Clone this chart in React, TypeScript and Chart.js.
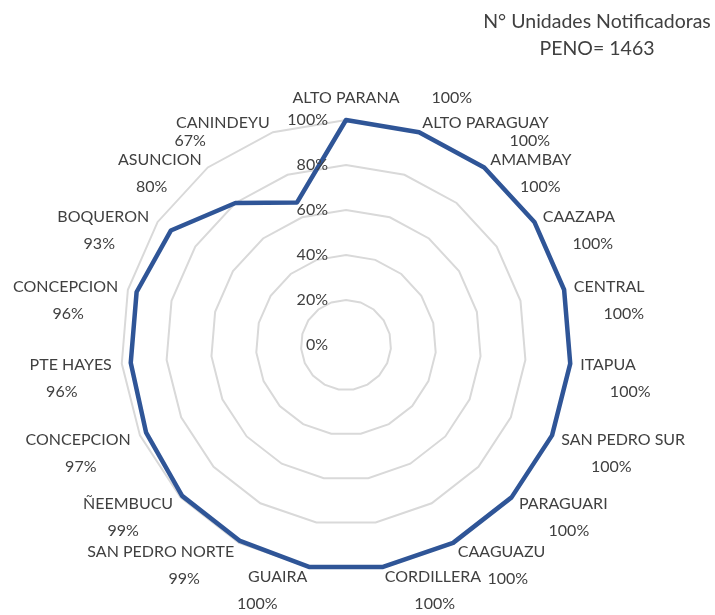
import React, { useEffect, useRef } from "react";
import { Chart, registerables } from "chart.js";

Chart.register(...registerables);

const CATEGORIES: string[] = [
  "ALTO PARANA",
  "ALTO PARAGUAY",
  "AMAMBAY",
  "CAAZAPA",
  "CENTRAL",
  "ITAPUA",
  "SAN PEDRO SUR",
  "PARAGUARI",
  "CAAGUAZU",
  "CORDILLERA",
  "GUAIRA",
  "SAN PEDRO NORTE",
  "ÑEEMBUCU",
  "CONCEPCION",
  "PTE HAYES",
  "CONCEPCION",
  "BOQUERON",
  "ASUNCION",
  "CANINDEYU",
];

const VALUES: number[] = [
  100, 100, 100, 100, 100, 100, 100, 100, 100, 100, 100, 99, 99, 97, 96, 96, 93, 80, 67,
];

const TICK_VALUES: number[] = [0, 20, 40, 60, 80, 100];
const TICK_LABELS: string[] = ["0%", "20%", "40%", "60%", "80%", "100%"];

const TITLE_LINES: string[] = ["N° Unidades Notificadoras", "PENO= 1463"];

const FONT_FAMILY = "Lato, 'Open Sans', sans-serif";
const TEXT_COLOR = "#404040";
const LINE_COLOR = "#2F5597";
const GRID_COLOR = "#D9D9D9";

const labelPlugin = {
  id: "radarLabels",
  afterDraw(chart: any) {
    const scale = chart.scales.r;
    const ctx: CanvasRenderingContext2D = chart.ctx;
    ctx.save();
    ctx.fillStyle = TEXT_COLOR;
    ctx.font = `16px ${FONT_FAMILY}`;

    // tick labels along the vertical axis
    ctx.textAlign = "right";
    ctx.textBaseline = "middle";
    TICK_VALUES.forEach((v, i) => {
      const d = scale.getDistanceFromCenterForValue(v);
      ctx.fillText(TICK_LABELS[i], scale.xCenter - 18, scale.yCenter - d);
    });

    // category + value labels
    const R = scale.drawingArea;
    CATEGORIES.forEach((cat, i) => {
      const angle = scale.getIndexAngle(i);
      let deg = (angle * 180) / Math.PI;
      deg = ((deg % 360) + 360) % 360;
      const valText = `${VALUES[i]}%`;
      const w = ctx.measureText(cat).width;
      if (deg < 5 || deg > 355) {
        const p = scale.getPointPosition(i, R + 22);
        ctx.textAlign = "center";
        ctx.textBaseline = "middle";
        ctx.fillText(cat, p.x, p.y);
        ctx.textAlign = "left";
        ctx.fillText(valText, p.x + w / 2 + 32, p.y);
        return;
      }
      const p = scale.getPointPosition(i, R + 10);
      const right = deg < 180;
      const sign = right ? 1 : -1;
      ctx.textBaseline = "middle";
      ctx.textAlign = right ? "left" : "right";
      ctx.fillText(cat, p.x, p.y);
      ctx.textAlign = "center";
      const nearTop = deg < 30 || deg > 330;
      if (nearTop) {
        ctx.fillText(valText, p.x + sign * w * 0.85, p.y + 18);
      } else {
        ctx.fillText(valText, p.x + sign * 50, p.y + 27);
      }
    });

    // title
    ctx.font = `19.5px ${FONT_FAMILY}`;
    ctx.textAlign = "center";
    ctx.textBaseline = "middle";
    const tx = chart.width - 118;
    TITLE_LINES.forEach((line, i) => {
      ctx.fillText(line, tx, 22 + i * 27);
    });
    ctx.restore();
  },
};

export default function App() {
  const canvasRef = useRef<HTMLCanvasElement | null>(null);

  useEffect(() => {
    if (!canvasRef.current) return;
    const chart = new Chart(canvasRef.current, {
      type: "radar",
      data: {
        labels: CATEGORIES,
        datasets: [
          {
            label: "N° Unidades Notificadoras",
            data: VALUES,
            borderColor: LINE_COLOR,
            borderWidth: 4.5,
            backgroundColor: "rgba(0,0,0,0)",
            fill: false,
            pointRadius: 0,
            pointHoverRadius: 0,
            borderJoinStyle: "round",
            tension: 0,
          },
        ],
      },
      options: {
        responsive: false,
        animation: false,
        events: [],
        layout: { padding: { left: 121, top: 120, right: 144, bottom: 45 } },
        plugins: {
          legend: { display: false },
          title: { display: false },
          tooltip: { enabled: false },
        },
        scales: {
          r: {
            min: 0,
            max: 100,
            beginAtZero: true,
            ticks: { stepSize: 20, display: false },
            pointLabels: { display: false },
            angleLines: { display: false },
            grid: { color: GRID_COLOR, lineWidth: 2, circular: false },
          },
        },
      },
      plugins: [labelPlugin],
    });
    return () => chart.destroy();
  }, []);

  return (
    <div style={{ position: "absolute", left: 0, top: 0, width: 715, height: 615, background: "#fff" }}>
      <canvas ref={canvasRef} width={715} height={615} style={{ display: "block" }} />
    </div>
  );
}
